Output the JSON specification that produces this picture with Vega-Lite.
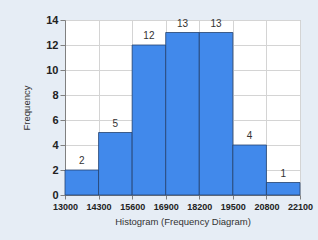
{
  "$schema": "https://vega.github.io/schema/vega-lite/v6.json",
  "width": 235,
  "height": 175,
  "autosize": "none",
  "padding": {"left": 65, "top": 20, "right": 18, "bottom": 45},
  "background": "#e6edf5",
  "config": {
    "view": {"fill": "white", "stroke": "#b0b0b0"},
    "axis": {"labelFont": "Liberation Sans", "titleFont": "Liberation Sans", "gridColor": "#d4d4d4", "domainColor": "#808080", "tickColor": "#808080", "labelColor": "#222222", "titleColor": "#333333"}
  },
  "data": {
    "values": [
      {"start": 13000, "end": 14300, "count": 2},
      {"start": 14300, "end": 15600, "count": 5},
      {"start": 15600, "end": 16900, "count": 12},
      {"start": 16900, "end": 18200, "count": 13},
      {"start": 18200, "end": 19500, "count": 13},
      {"start": 19500, "end": 20800, "count": 4},
      {"start": 20800, "end": 22100, "count": 1}
    ]
  },
  "layer": [
    {
      "mark": {"type": "bar", "fill": "#4189eb", "stroke": "#23416e", "strokeWidth": 0.8},
      "encoding": {
        "x": {"field": "start", "type": "quantitative", "scale": {"domain": [13000, 22100], "nice": false, "zero": false},
          "axis": {"values": [13000, 14300, 15600, 16900, 18200, 19500, 20800, 22100], "title": "Histogram (Frequency Diagram)", "labelFontSize": 9, "labelFontWeight": "bold", "titleFontSize": 9.5, "titleFontWeight": "normal", "tickSize": 4, "labelPadding": 3, "titlePadding": 5, "format": "d", "labelOverlap": false, "labelFlush": false}},
        "x2": {"field": "end"},
        "y": {"field": "count", "type": "quantitative", "scale": {"domain": [0, 14], "nice": false},
          "axis": {"values": [0, 2, 4, 6, 8, 10, 12, 14], "title": "Frequency", "labelFontSize": 11, "labelFontWeight": "bold", "titleFontSize": 9.5, "titleFontWeight": "normal", "tickSize": 5, "titlePadding": 14, "labelOverlap": false}},
        "y2": {"datum": 0}
      }
    },
    {
      "mark": {"type": "text", "dy": -9, "fontSize": 10, "font": "Liberation Sans", "color": "#333333"},
      "encoding": {
        "x": {"field": "mid", "type": "quantitative",
          "axis": {"values": [13000, 14300, 15600, 16900, 18200, 19500, 20800, 22100], "title": "Histogram (Frequency Diagram)", "labelFontSize": 9, "labelFontWeight": "bold", "titleFontSize": 9.5, "titleFontWeight": "normal", "tickSize": 4, "labelPadding": 3, "titlePadding": 5, "format": "d", "labelOverlap": false, "labelFlush": false}},
        "y": {"field": "count", "type": "quantitative",
          "axis": {"values": [0, 2, 4, 6, 8, 10, 12, 14], "title": "Frequency", "labelFontSize": 11, "labelFontWeight": "bold", "titleFontSize": 9.5, "titleFontWeight": "normal", "tickSize": 5, "titlePadding": 14, "labelOverlap": false}},
        "text": {"field": "count", "type": "quantitative"}
      },
      "transform": [{"calculate": "(datum.start + datum.end) / 2", "as": "mid"}]
    }
  ]
}
